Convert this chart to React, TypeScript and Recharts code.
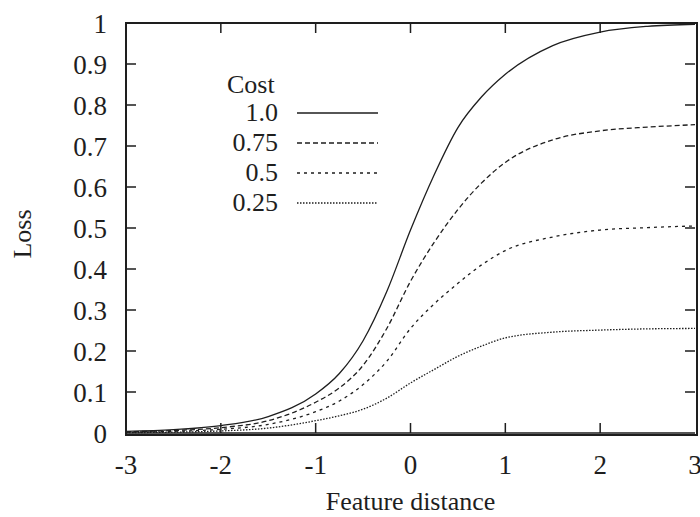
import { Line, LineChart, XAxis, YAxis, Label } from "recharts";

const xValues = [-3, -2.5, -2, -1.5, -1, -0.75, -0.5, -0.25, 0, 0.25, 0.5, 0.75, 1, 1.5, 2, 2.5, 3];
const cost100 = [0.004, 0.008, 0.018, 0.04, 0.095, 0.145, 0.225, 0.345, 0.495, 0.63, 0.745, 0.82, 0.875, 0.945, 0.978, 0.992, 0.997];
const cost075 = [0.003, 0.006, 0.013, 0.03, 0.075, 0.11, 0.165, 0.255, 0.37, 0.465, 0.545, 0.61, 0.66, 0.715, 0.737, 0.746, 0.752];
const cost050 = [0.002, 0.004, 0.009, 0.021, 0.052, 0.078, 0.118, 0.175, 0.255, 0.315, 0.365, 0.41, 0.445, 0.478, 0.495, 0.501, 0.505];
const cost025 = [0.001, 0.002, 0.005, 0.012, 0.03, 0.042, 0.058, 0.085, 0.122, 0.155, 0.187, 0.212, 0.232, 0.246, 0.251, 0.254, 0.255];

const xTicks = [-3, -2, -1, 0, 1, 2, 3];
const yTicks = [0, 0.1, 0.2, 0.3, 0.4, 0.5, 0.6, 0.7, 0.8, 0.9, 1];

const series = [
  { key: "c100", name: "1.0", dash: undefined as string | undefined },
  { key: "c075", name: "0.75", dash: "5 3" },
  { key: "c050", name: "0.5", dash: "3 4" },
  { key: "c025", name: "0.25", dash: "1.5 1.5" },
];

const data = xValues.map((x, i) => ({
  x,
  c100: cost100[i],
  c075: cost075[i],
  c050: cost050[i],
  c025: cost025[i],
}));

const INK = "#1e1e1e";
const FONT = "'Liberation Serif', 'Times New Roman', serif";

const W = 700;
const H = 517;
const MARGIN = { top: 23, right: 5, bottom: 0, left: 0 };
const Y_AXIS_W = 126;
const X_AXIS_H = 84;
const PLOT = {
  left: MARGIN.left + Y_AXIS_W,
  top: MARGIN.top,
  width: W - MARGIN.left - Y_AXIS_W - MARGIN.right,
  height: H - MARGIN.top - MARGIN.bottom - X_AXIS_H,
};
const TICK = 10;

// gnuplot-style border with inward ticks, plus the Cost key
function Overlay() {
  const px = (x: number) => PLOT.left + ((x + 3) / 6) * PLOT.width;
  const py = (v: number) => PLOT.top + PLOT.height - v * PLOT.height;
  const bottom = PLOT.top + PLOT.height;
  const right = PLOT.left + PLOT.width;
  return (
    <>
      <div
        style={{
          position: "absolute",
          left: PLOT.left - 1,
          top: PLOT.top - 1,
          width: PLOT.width,
          height: PLOT.height,
          border: `2px solid ${INK}`,
          pointerEvents: "none",
          zIndex: 5,
        }}
      />
      <svg width={W} height={H} style={{ position: "absolute", left: 0, top: 0, pointerEvents: "none", fontFamily: FONT, zIndex: 6 }}>
        {xTicks.slice(1, -1).map((t) => (
          <path key={`x${t}`} d={`M${px(t)},${bottom}v${-TICK}M${px(t)},${PLOT.top}v${TICK}`} stroke={INK} strokeWidth={1.5} />
        ))}
        {yTicks.slice(1, -1).map((t) => (
          <path key={`y${t}`} d={`M${PLOT.left},${py(t)}h${TICK}M${right},${py(t)}h${-TICK}`} stroke={INK} strokeWidth={1.5} />
        ))}
        <g transform="translate(220,62)">
          <text x={7} y={31} fontSize={26} fill={INK}>Cost</text>
          {series.map((s, i) => (
            <g key={s.key}>
              <text x={58} y={59 + i * 30} fontSize={26} fill={INK} textAnchor="end">{s.name}</text>
              <line x1={77} x2={158} y1={51 + i * 30} y2={51 + i * 30} stroke={INK} strokeWidth={1.3} strokeDasharray={s.dash} />
            </g>
          ))}
        </g>
      </svg>
    </>
  );
}

export default function App() {
  const tickStyle = { fill: INK, fontSize: 27, fontFamily: FONT };
  return (
    <div style={{ position: "absolute", left: 0, top: 0, width: W, height: H, background: "#fff" }}>
      <LineChart width={W} height={H} data={data} margin={MARGIN}>
        <XAxis
          dataKey="x"
          type="number"
          domain={[-3, 3]}
          ticks={xTicks}
          interval={0}
          tick={tickStyle}
          tickLine={false}
          tickSize={-10}
          tickMargin={32}
          stroke={INK}
          strokeWidth={1.5}
          height={X_AXIS_H}
        >
          <Label
            content={({ viewBox }: any) => (
              <text x={viewBox.x + viewBox.width / 2} y={viewBox.y + 77} textAnchor="middle" fontSize={26} fontFamily={FONT} fill={INK}>
                Feature distance
              </text>
            )}
          />
        </XAxis>
        <YAxis
          type="number"
          domain={[0, 1]}
          ticks={yTicks}
          interval={0}
          tick={tickStyle}
          tickLine={false}
          tickSize={-10}
          tickMargin={29}
          stroke={INK}
          strokeWidth={1.5}
          width={Y_AXIS_W}
        >
          <Label
            content={({ viewBox }: any) => (
              <text x={viewBox.x + 31} y={viewBox.y + viewBox.height / 2 + 6} transform={`rotate(-90 ${viewBox.x + 31} ${viewBox.y + viewBox.height / 2 + 6})`} textAnchor="middle" fontSize={26} fontFamily={FONT} fill={INK}>
                Loss
              </text>
            )}
          />
        </YAxis>
        {series.map((s) => (
          <Line
            key={s.key}
            dataKey={s.key}
            name={s.name}
            type="monotone"
            stroke={INK}
            strokeWidth={1.3}
            strokeDasharray={s.dash}
            dot={false}
            activeDot={false}
            isAnimationActive={false}
          />
        ))}
      </LineChart>
      <Overlay />
    </div>
  );
}
